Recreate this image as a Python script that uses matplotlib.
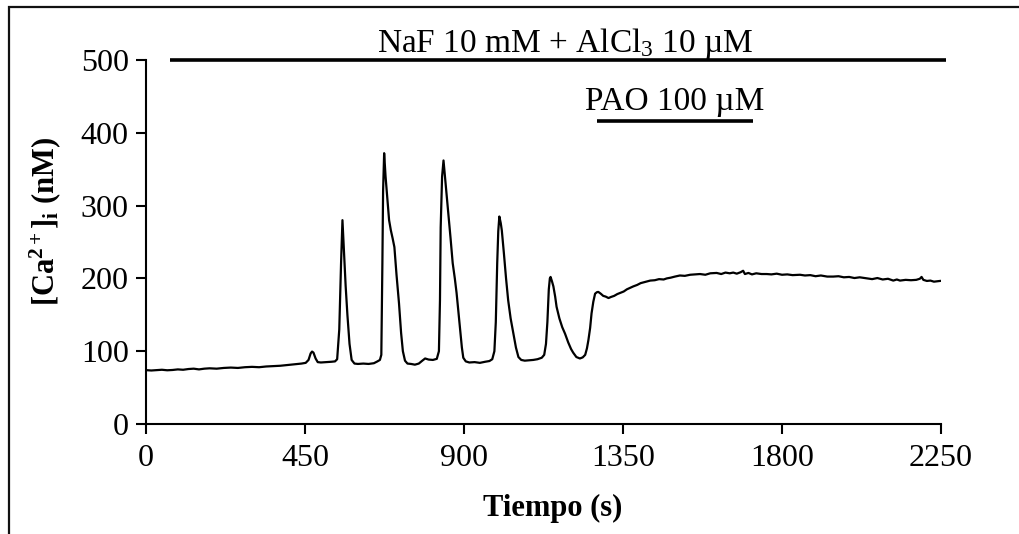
import matplotlib
matplotlib.use("Agg")
import matplotlib.pyplot as plt
from matplotlib.patches import Rectangle

plt.rcParams['font.family'] = ['Liberation Serif', 'DejaVu Serif']
plt.rcParams['mathtext.fontset'] = 'custom'
plt.rcParams['mathtext.rm'] = 'Liberation Serif'
plt.rcParams['mathtext.it'] = 'Liberation Serif:italic'
plt.rcParams['mathtext.bf'] = 'Liberation Serif:bold'

# ---- data ----
time_s = [0, 15, 30, 45, 60, 75, 90, 105, 120, 135, 150, 165, 180, 200, 220, 240, 260, 280, 300, 320,
          340, 360, 380, 400, 420, 440,
          452, 460, 466, 470, 474, 480, 486, 495, 510, 525, 535,
          541, 547, 552, 556, 560, 565, 570, 576, 582, 590, 600, 615, 630, 645, 655, 662,
          666, 669, 671, 674, 678, 683, 688, 693, 698, 703, 709, 716, 722, 727, 733, 740, 750, 761,
          772, 782, 790, 800, 812, 823,
          829, 832, 834, 838, 842, 848, 856, 862, 868, 874, 879, 884, 889, 894, 898, 905, 915, 930,
          945, 960, 972, 980,
          986, 990, 994, 997, 1000, 1004, 1007, 1013, 1019, 1025, 1032, 1040, 1047, 1054, 1062, 1072,
          1085, 1096, 1108, 1120, 1127,
          1132, 1136, 1140, 1143, 1145, 1149, 1153, 1158, 1162, 1170, 1178, 1186, 1195, 1203, 1209,
          1218, 1228, 1236, 1243, 1248, 1252, 1257, 1261, 1266, 1271, 1276, 1280, 1287, 1294, 1301,
          1309, 1316,
          1325, 1334, 1342, 1352, 1361, 1370, 1379, 1390, 1400, 1412, 1427, 1440, 1452, 1465, 1474,
          1485, 1497, 1511, 1525, 1540, 1555, 1568, 1583, 1597, 1615, 1628, 1640, 1652, 1662, 1672,
          1683, 1690, 1695, 1705, 1715, 1727, 1742, 1757, 1770, 1785, 1800, 1815, 1830, 1851, 1865,
          1880, 1895, 1910, 1928, 1945, 1960, 1975, 1990, 2005, 2020, 2040, 2055, 2070, 2085, 2100,
          2115, 2125, 2134, 2150, 2165, 2180, 2190, 2195, 2200, 2210, 2220, 2230, 2240, 2247]
ca_nM = [74, 73.5, 74, 74.5, 73.8, 74.2, 75, 74.5, 75.5, 76, 75, 76, 76.5, 76, 77, 77.5, 77, 78, 78.5, 78,
         79, 79.5, 80, 81, 82, 83,
         84, 88, 97, 99.5, 98, 90, 85, 84.5, 85, 85.5, 86,
         89, 130, 220, 280, 240, 190, 150, 110, 88, 83, 82.5, 83, 82.5, 83.5, 86, 88,
         95, 220, 320, 372, 340, 310, 280, 266, 255, 243, 205, 166, 125, 100, 87, 83, 82.5, 81.5,
         83, 87, 90, 88.5, 88, 89.5,
         100, 170, 270, 340, 362, 330, 289, 255, 221, 200, 180, 155, 129, 105, 91, 86, 84.5, 85,
         84, 85.5, 86.5, 89,
         100, 140, 221, 265, 285, 276, 266, 234, 200, 170, 145, 124, 105, 92, 88, 87,
         87.5, 88, 89, 91, 95,
         110, 140, 185, 200, 202, 196, 189, 175, 161, 145, 133, 124, 112, 103, 98,
         92, 90, 91.5, 95, 104, 115, 132, 152, 168, 179, 181, 181.5, 179, 176, 175,
         173, 174.5,
         176, 178.5, 180, 182, 185, 187, 189, 191, 193.5, 195, 197, 197.5, 199, 198.5, 200,
         201, 202.5, 204, 203.5, 205, 205.5, 206, 205, 207, 207.5, 206, 208, 207, 208, 206.5,
         208.5, 210.5, 206, 207.5, 205.5, 207, 206, 206, 205.5, 206.5, 205, 205.5, 204.5, 205, 204,
         204.5, 203, 204, 202.5, 202.5, 203, 201.5, 202, 200.5, 201.5, 200, 199, 200.5, 198.5, 199.5,
         197, 198.5, 197, 198, 197.5, 198, 199.5, 202, 198, 196.5, 197, 195.5, 196, 196.5]

x_ticks = [0, 450, 900, 1350, 1800, 2250]
y_ticks = [0, 100, 200, 300, 400, 500]

naf_bar = [68, 2264]      # s
naf_level = 500.5
pao_bar = [1276, 1718]    # s
pao_level = 416

naf_label = r"NaF 10 mM + AlCl$_\mathregular{3}$ 10 µM"
pao_label = "PAO 100 µM"
x_label = "Tiempo (s)"
y_label = r"[Ca$^\mathregular{2+}$]$_\mathregular{i}$ (nM)"

# ---- figure ----
W, H = 1019, 534
fig = plt.figure(figsize=(W / 100, H / 100), dpi=100)
fig.patch.set_facecolor('white')

# outer frame (cropped at right and bottom)
fig.patches.append(Rectangle((8.5 / W, -0.2), 1.5, 1.2 - 6.5 / H, transform=fig.transFigure,
                             fill=False, edgecolor='#111111', linewidth=1.6))

ax = fig.add_axes([146 / W, 1 - 424 / H, (941 - 146) / W, (424 - 60) / H])
ax.plot(time_s, ca_nM, color='black', linewidth=1.6, solid_joinstyle='round')

ax.set_xlim(0, 2250)
ax.set_ylim(0, 500)
ax.set_xticks(x_ticks)
ax.set_yticks(y_ticks)
for s in ['top', 'right']:
    ax.spines[s].set_visible(False)
for s in ['left', 'bottom']:
    ax.spines[s].set_linewidth(1.5)
ax.tick_params(axis='both', direction='out', length=7.5, width=1.5, labelsize=23)
ax.tick_params(axis='x', pad=7)
ax.tick_params(axis='y', pad=5)

ax.set_xlabel(x_label, fontsize=22, fontweight='bold')
ax.set_ylabel(y_label, fontsize=22, fontweight='bold')
ax.xaxis.set_label_coords((553 - 146) / 795, (424 - 494) / 364)
ax.yaxis.set_label_coords((63 - 146) / 795, (424 - 222) / 364)

# treatment bars
ax.plot(naf_bar, [naf_level, naf_level], color='black', linewidth=2.6,
        solid_capstyle='butt', clip_on=False)
ax.plot(pao_bar, [pao_level, pao_level], color='black', linewidth=2.6,
        solid_capstyle='butt', clip_on=False)
ax.text(1186, 522, naf_label, ha='center', va='center', fontsize=24, clip_on=False)
ax.text(1497, 443, pao_label, ha='center', va='center', fontsize=24, clip_on=False)

fig.savefig('out.png', dpi=100, facecolor='white')
